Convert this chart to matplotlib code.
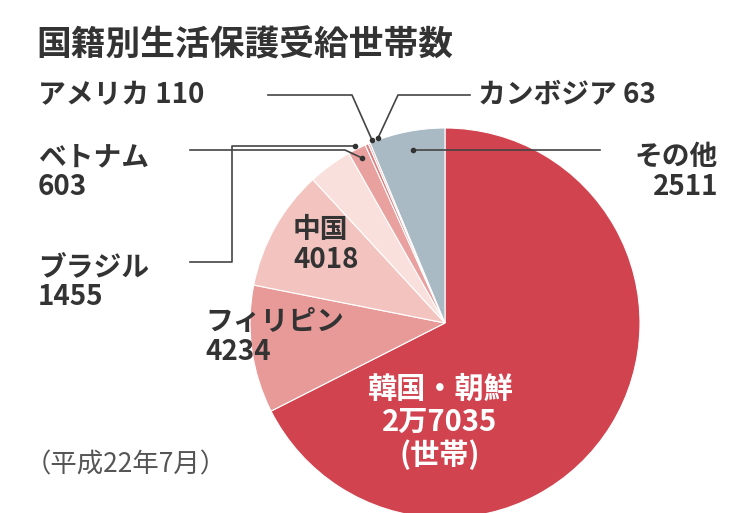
import matplotlib
matplotlib.use("Agg")
import matplotlib.pyplot as plt

plt.rcParams['font.family'] = ['Noto Sans CJK JP', 'DejaVu Sans']

categories = ["韓国・朝鮮", "フィリピン", "中国", "ブラジル", "ベトナム", "アメリカ", "カンボジア", "その他"]
values = [27035, 4234, 4018, 1455, 603, 110, 63, 2511]
colors = ["#d0434f", "#e79a98", "#f3c4bf", "#fae0dc", "#e8a19f", "#dc7f80", "#e0a0a0", "#aabac5"]

W, H = 750, 513
fig = plt.figure(figsize=(7.5, 5.13), dpi=100)
ax = fig.add_axes([0, 0, 1, 1])

cx, cy, r = 445, H - 323, 195
ax.pie(values, colors=colors, startangle=90, counterclock=False, center=(cx, cy), radius=r,
       wedgeprops=dict(edgecolor='white', linewidth=0.8), frame=True)
ax.set_xlim(0, W); ax.set_ylim(0, H); ax.set_aspect('equal'); ax.axis('off')

def Y(y): return H - y
dark = "#333333"
ax.text(36, Y(45), "国籍別生活保護受給世帯数", fontsize=25, fontweight='bold', color=dark, va='center')

lab = dict(fontsize=20, color=dark, fontweight='bold', linespacing=1.1)
ax.text(38, Y(95), "アメリカ 110", va='center', **lab)
ax.text(478, Y(95), "カンボジア 63", va='center', **lab)
ax.text(38, Y(172), "ベトナム\n603", va='center', **lab)
ax.text(38, Y(282), "ブラジル\n1455", va='center', **lab)
ax.text(718, Y(172), "その他\n2511", va='center', ha='right', multialignment='right', **lab)
ax.text(293, Y(245), "中国\n4018", va='center', ha='left', **lab)
ax.text(205, Y(337), "フィリピン\n4234", va='center', ha='left', **lab)
ax.text(440, Y(422), "韓国・朝鮮\n2万7035\n(世帯)", va='center', ha='center', fontsize=21,
        color='white', fontweight='bold', linespacing=1.1)
ax.text(25, Y(465), "（平成22年7月）", va='center', fontsize=19, color="#555555")

lk = dict(color="#444444", linewidth=1.2)
ax.plot([268, 352, 372], [Y(95), Y(95), Y(140)], **lk)
ax.plot([470, 398, 378], [Y(95), Y(95), Y(138)], **lk)
ax.plot([190, 345, 362], [Y(150), Y(150), Y(158)], **lk)
ax.plot([190, 232, 232, 355], [Y(262), Y(262), Y(146), Y(146)], **lk)
ax.plot([600, 413], [Y(150), Y(150)], **lk)
for (x, y) in [(372, 140), (378, 138), (362, 158), (355, 146), (413, 150)]:
    ax.plot(x, Y(y), 'o', color="#333333", markersize=3)

fig.savefig("out.png", dpi=100, facecolor='white')
